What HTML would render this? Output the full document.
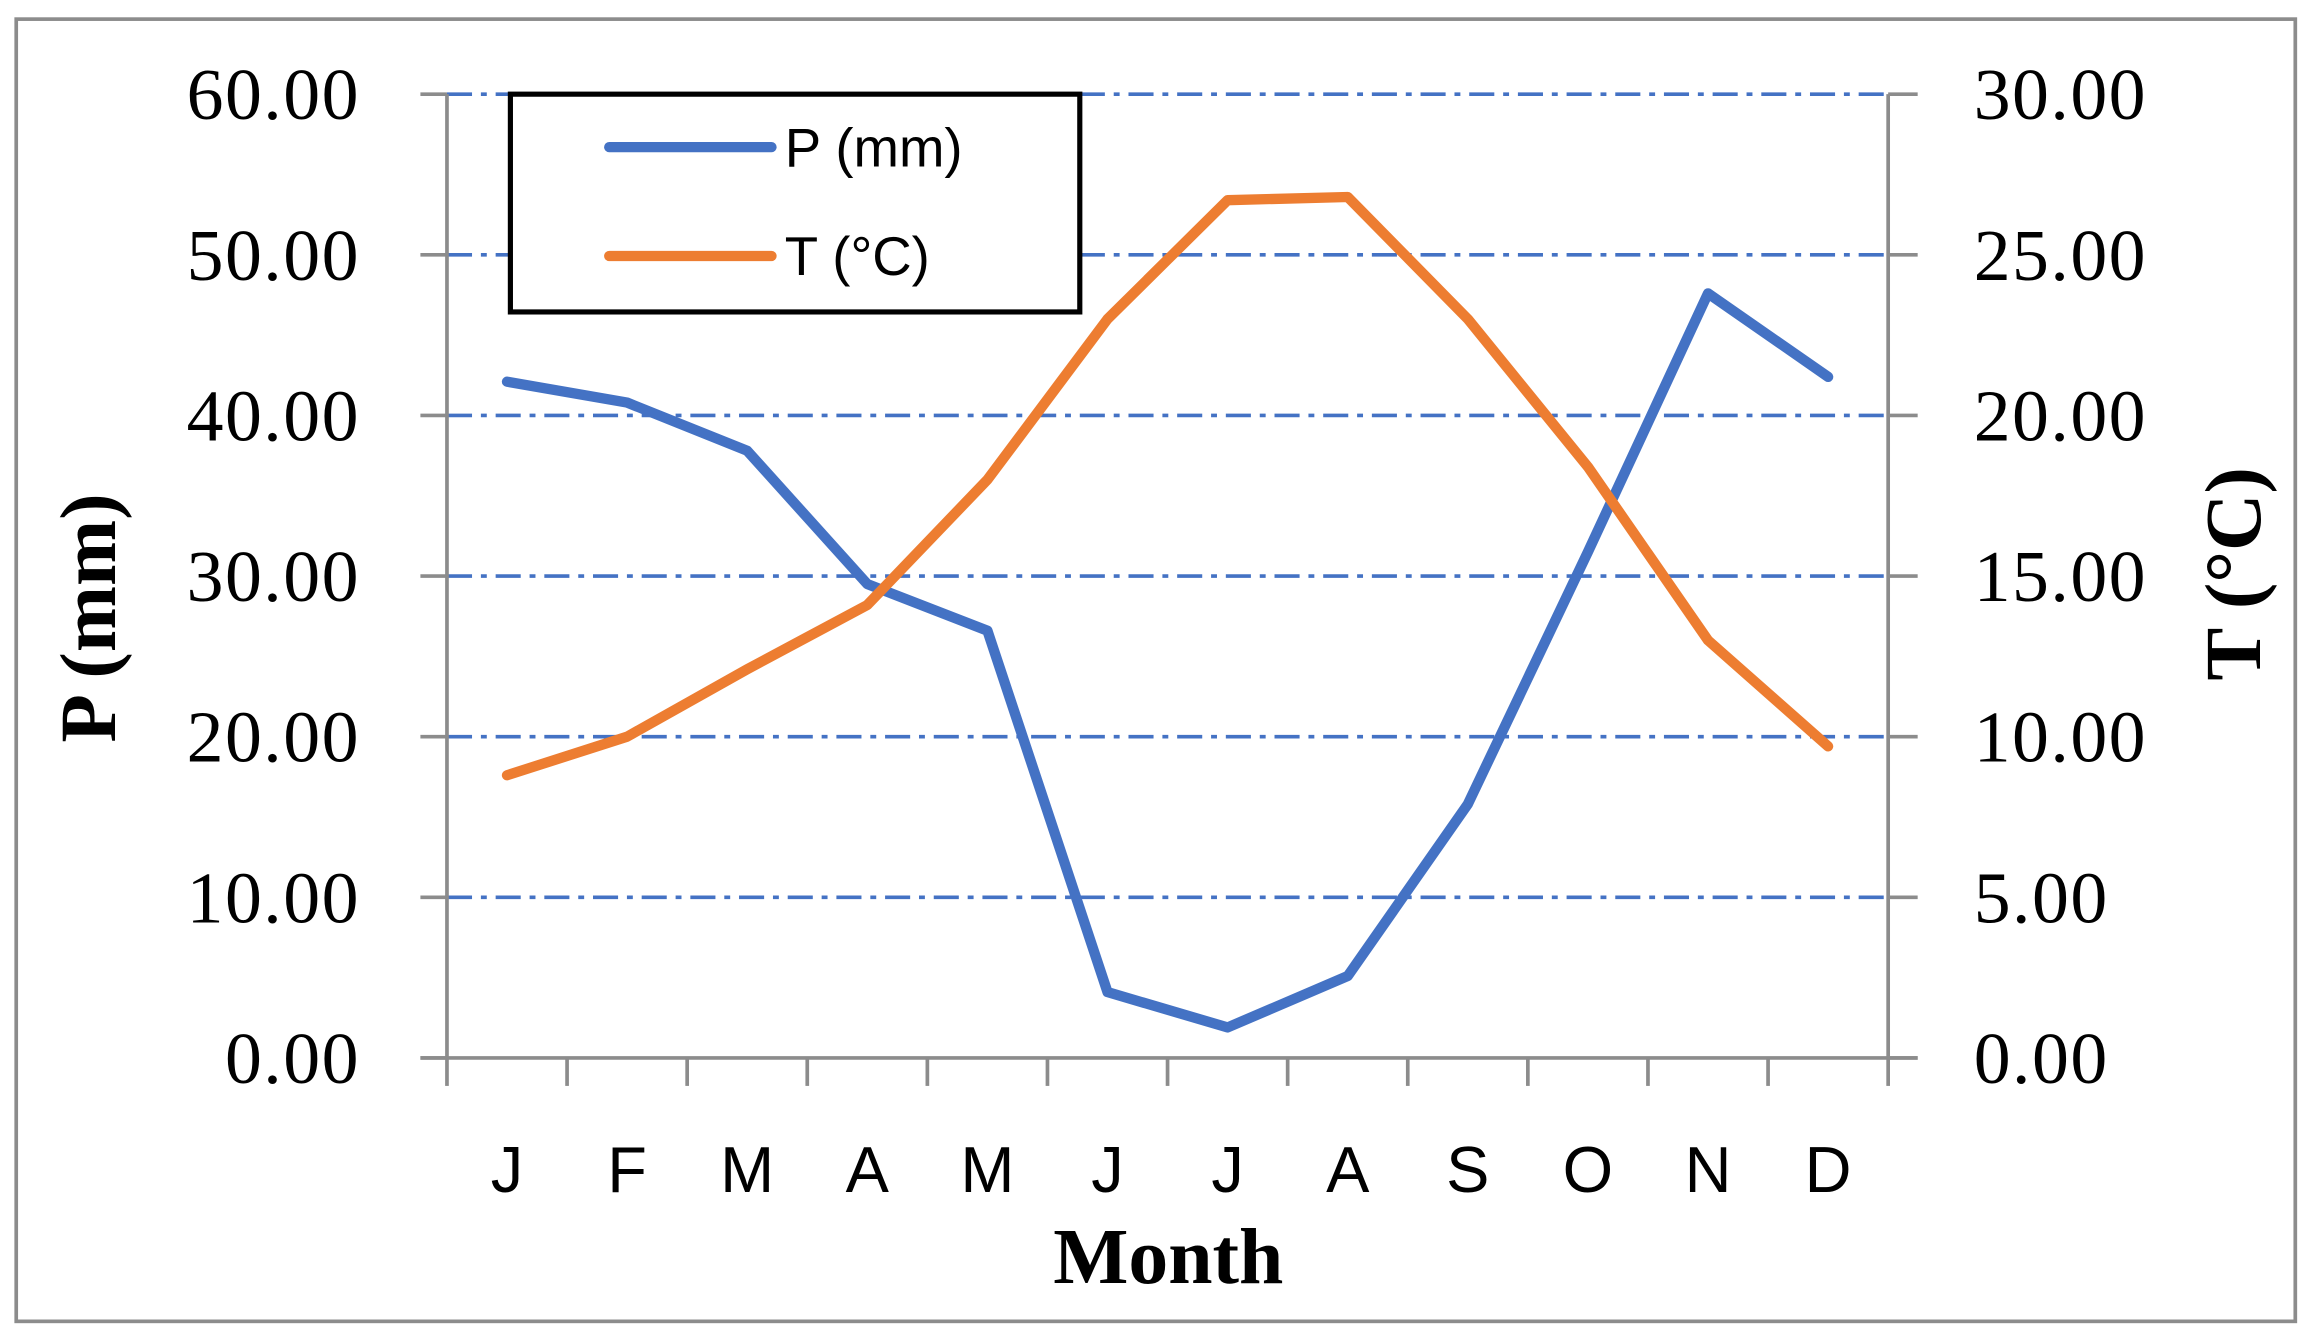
<!DOCTYPE html>
<html><head><meta charset="utf-8"><style>
html,body{margin:0;padding:0;background:#fff;}
svg{display:block;}
.serif{font-family:"Liberation Serif",serif;}
.sans{font-family:"Liberation Sans",sans-serif;}
</style></head><body>
<svg id="chart" width="2313" height="1339" viewBox="0 0 1568 910" preserveAspectRatio="none">
<rect x="11" y="13" width="1545" height="885" fill="#fff" stroke="#8c8c8c" stroke-width="2.5"/>
<g id="grid"></g><g id="axes"></g><g id="series"></g>
<text class="serif" font-weight="bold" font-size="54" x="792" y="872" text-anchor="middle">Month</text>
<text class="serif" font-weight="bold" font-size="54" transform="translate(78,420) rotate(-90)" text-anchor="middle">P (mm)</text>
<text class="serif" font-weight="bold" font-size="54" transform="translate(1532,390) rotate(-90)" text-anchor="middle">T (°C)</text>
<g>
<rect x="346" y="64" width="386" height="148" fill="#fff" stroke="#000" stroke-width="3.5"/>
<g>
<line x1="413" y1="100" x2="523" y2="100" stroke="#4472C4" stroke-width="7" stroke-linecap="round"/>
<text class="sans" font-size="37" x="532" y="113">P (mm)</text></g>
<g>
<line x1="413" y1="174" x2="523" y2="174" stroke="#ED7D31" stroke-width="7" stroke-linecap="round"/>
<text class="sans" font-size="37" x="532" y="187">T (°C)</text></g>
</g>
</svg>
<script>
const months=["J","F","M","A","M","J","J","A","S","O","N","D"];
const precip=[42.1,40.8,37.8,29.5,26.6,4.1,1.9,5.1,15.8,31.5,47.6,42.4];
const temp=[8.8,10.0,12.1,14.1,18.0,23.0,26.7,26.8,23.0,18.4,13.0,9.7];
const leftTicks=["0.00","10.00","20.00","30.00","40.00","50.00","60.00"];
const rightTicks=["0.00","5.00","10.00","15.00","20.00","25.00","30.00"];
const NS="http://www.w3.org/2000/svg";
const X0=303,X1=1280,Y0=719,Y1=64;
const yP=v=>Y0-(v/60)*(Y0-Y1);
const yT=v=>Y0-(v/30)*(Y0-Y1);
const bw=(X1-X0)/months.length;
const xC=i=>X0+(i+0.5)*bw;
function mk(tag,attrs,parent){const e=document.createElementNS(NS,tag);for(const k in attrs)e.setAttribute(k,attrs[k]);parent.appendChild(e);return e;}
const grid=document.getElementById('grid'),axes=document.getElementById('axes'),ser=document.getElementById('series');
leftTicks.forEach((t,i)=>{
  const v=parseFloat(t),y=yP(v);
  if(i>0){const g=mk('line',{x1:X0,x2:X1,y1:y,y2:y,stroke:'#4472C4','stroke-width':2.5,'stroke-dasharray':'17 6 4 6'},grid);
  
  }
  mk('line',{x1:285,x2:X0,y1:y,y2:y,stroke:'#8c8c8c','stroke-width':2.5},axes);
  mk('line',{x1:X1,x2:1300,y1:y,y2:y,stroke:'#8c8c8c','stroke-width':2.5},axes);
  const l=mk('text',{x:244,y:y+17,'text-anchor':'end','font-size':50,'letter-spacing':'1',class:'serif'},axes);l.textContent=t;
  
  
});
rightTicks.forEach(t=>{
  const y=yT(parseFloat(t));
  const l=mk('text',{x:1338,y:y+17,'font-size':50,'letter-spacing':'1',class:'serif'},axes);l.textContent=t;
  
  
});
mk('line',{x1:X0,x2:X0,y1:Y1,y2:Y0,stroke:'#8c8c8c','stroke-width':2.5},axes);
mk('line',{x1:X1,x2:X1,y1:Y1,y2:Y0,stroke:'#8c8c8c','stroke-width':2.5},axes);
mk('line',{x1:285,x2:1300,y1:Y0,y2:Y0,stroke:'#8c8c8c','stroke-width':2.5},axes);
for(let i=0;i<=months.length;i++){const x=X0+i*bw;mk('line',{x1:x,x2:x,y1:Y0,y2:738,stroke:'#8c8c8c','stroke-width':2.5},axes);}
months.forEach((m,i)=>{
  const l=mk('text',{x:xC(i),y:810,'text-anchor':'middle','font-size':44,class:'sans'},axes);l.textContent=m;
  
  
});
const pl=mk('polyline',{points:precip.map((v,i)=>xC(i)+','+yP(v)).join(' '),fill:'none',stroke:'#4472C4','stroke-width':7,'stroke-linejoin':'round','stroke-linecap':'round'},ser);


const tl=mk('polyline',{points:temp.map((v,i)=>xC(i)+','+yT(v)).join(' '),fill:'none',stroke:'#ED7D31','stroke-width':7,'stroke-linejoin':'round','stroke-linecap':'round'},ser);


</script>
</body></html>
